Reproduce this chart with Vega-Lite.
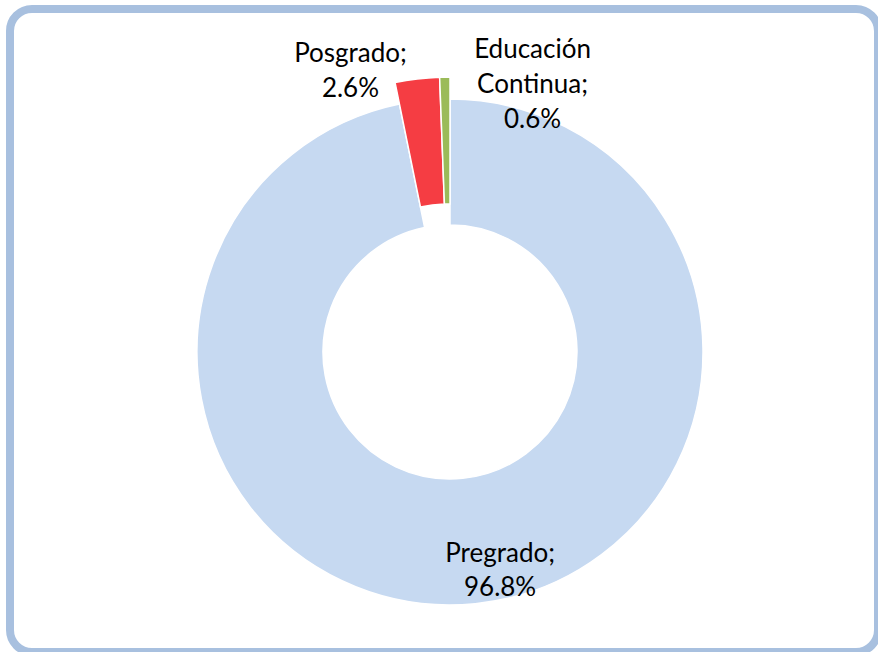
{
  "$schema": "https://vega.github.io/schema/vega-lite/v6.json",
  "width": 868,
  "height": 643,
  "autosize": "none",
  "padding": {"left": 10, "top": 9, "right": 0, "bottom": 0},
  "background": "white",
  "view": {"stroke": "#a8c0df", "strokeWidth": 8, "cornerRadius": 22, "fill": "white"},
  "data": {"values": [
    {"category": "Pregrado", "value": 96.8},
    {"category": "Posgrado", "value": 2.6},
    {"category": "Educación Continua", "value": 0.6}
  ]},
  "transform": [
    {"stack": "value", "groupby": [], "sort": [{"field": "value", "order": "descending"}], "as": ["start", "end"]},
    {"calculate": "(datum.start + datum.end) / 2", "as": "mid"},
    {"calculate": "datum.category + '; ' + format(datum.value, '.1f') + '%'", "as": "label"}
  ],
  "layer": [
    {
      "transform": [{"filter": "datum.category === 'Pregrado'"}],
      "mark": {"type": "arc", "radius": 253, "radius2": 127, "xOffset": 6, "yOffset": 21.5, "stroke": "white", "strokeWidth": 1.5},
      "encoding": {
        "theta": {"field": "start", "type": "quantitative", "stack": null, "scale": {"domain": [0, 100]}},
        "theta2": {"field": "end"},
        "color": {"field": "category", "type": "nominal", "scale": {"domain": ["Pregrado", "Posgrado", "Educación Continua"], "range": ["#c6d9f1", "#f53d43", "#9bbb59"]}, "legend": null}
      }
    },
    {
      "transform": [{"filter": "datum.category !== 'Pregrado'"}],
      "mark": {"type": "arc", "radius": 275, "radius2": 148, "xOffset": 6, "yOffset": 21.5, "stroke": "white", "strokeWidth": 1.5},
      "encoding": {
        "theta": {"field": "start", "type": "quantitative", "stack": null, "scale": {"domain": [0, 100]}},
        "theta2": {"field": "end"},
        "color": {"field": "category", "type": "nominal", "legend": null}
      }
    },
    {
      "transform": [{"filter": "datum.category === 'Pregrado'"}],
      "mark": {"type": "text", "radius": 220, "xOffset": 6, "yOffset": 21.5, "dx": 28, "dy": -17, "font": "Lato", "fontSize": 26, "lineHeight": 34, "lineBreak": " ", "baseline": "middle", "align": "center", "color": "#000000"},
      "encoding": {
        "theta": {"field": "mid", "type": "quantitative", "stack": null},
        "text": {"field": "label"}
      }
    },
    {
      "transform": [{"filter": "datum.category === 'Posgrado'"}],
      "mark": {"type": "text", "radius": 290, "xOffset": 6, "yOffset": 21.5, "dx": -65, "dy": -10.5, "font": "Lato", "fontSize": 26, "lineHeight": 35, "lineBreak": " ", "baseline": "middle", "align": "center", "color": "#000000"},
      "encoding": {
        "theta": {"field": "mid", "type": "quantitative", "stack": null},
        "text": {"field": "label"}
      }
    },
    {
      "transform": [{"filter": "datum.category === 'Educación Continua'"}],
      "mark": {"type": "text", "radius": 290, "xOffset": 6, "yOffset": 21.5, "dx": 88, "dy": -12.5, "font": "Lato", "fontSize": 26, "lineHeight": 35, "lineBreak": " ", "baseline": "middle", "align": "center", "color": "#000000"},
      "encoding": {
        "theta": {"field": "mid", "type": "quantitative", "stack": null},
        "text": {"field": "label"}
      }
    }
  ]
}
